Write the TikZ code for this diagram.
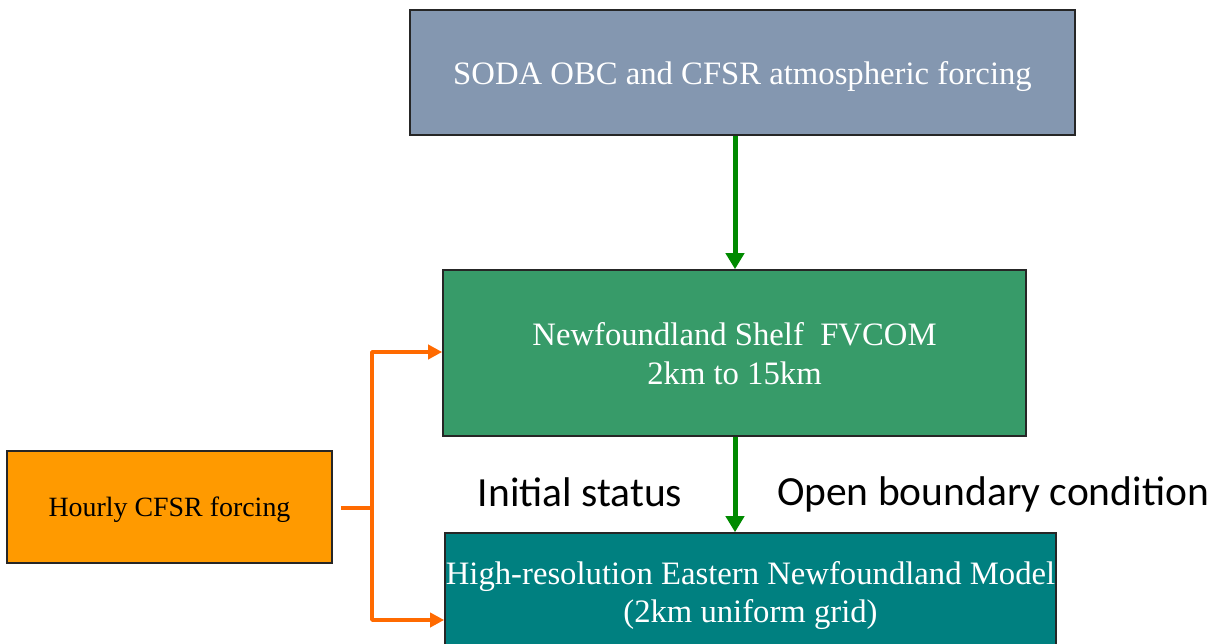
\documentclass[tikz,border=0pt]{standalone}
\usepackage{fontspec}
\setmainfont{Liberation Serif}
\newfontfamily\labelfont{Carlito}
\usetikzlibrary{arrows.meta}

\definecolor{sodablue}{HTML}{8497B0}
\definecolor{shelfgreen}{HTML}{379B69}
\definecolor{modelteal}{HTML}{008080}
\definecolor{forcingorange}{HTML}{FF9A00}
\definecolor{lineorange}{HTML}{FF6A00}
\definecolor{arrowgreen}{HTML}{008A00}

\tikzset{
  box/.style={draw=black!85, line width=1.6pt, inner sep=0pt, align=center,
    text depth=0pt, font=\fontsize{32.7}{39}\selectfont, text=white},
  greenarrow/.style={draw=arrowgreen, line width=5pt,
    -{Triangle[width=18pt,length=16pt]}},
  orangeline/.style={draw=lineorange, line width=3.8pt, line join=round},
  steplabel/.style={font=\labelfont\fontsize{41.5}{48}\selectfont}
}

\begin{document}
\begin{tikzpicture}[x=1pt, y=-1pt]
\useasboundingbox (0,0) rectangle (1218,644);
\clip (0,0) rectangle (1218,644);
\coordinate (A) at (742.5,72.5);
\coordinate (B) at (734.5,353);
\coordinate (C) at (169.5,507);
\coordinate (D) at (750.5,591.5);
\coordinate (split) at (372,508);

\node [box, fill=sodablue, minimum width=665pt, minimum height=125pt] (soda) at (A)
  {SODA OBC and CFSR atmospheric forcing};
\node [box, fill=shelfgreen, minimum width=583pt, minimum height=166pt] (fvcom) at (B)
  {Newfoundland Shelf\ \ FVCOM\\2km to 15km};
\node [box, fill=forcingorange, minimum width=325pt, minimum height=112pt, text=black,
  font=\fontsize{27.9}{33}\selectfont] (hourly) at (C) {Hourly CFSR forcing};
\node [box, fill=modelteal, minimum width=611pt, minimum height=117pt,
  font=\fontsize{32.7}{38}\selectfont] (model) at (D)
  {High-resolution Eastern Newfoundland Model\\(2km uniform grid)};

\node [steplabel] (initial) at (580,492) {Initial status};
\node [steplabel] (openbc) at (993,494) {Open boundary condition};

\draw [greenarrow] (soda.south -| 735,0) -- (fvcom.north -| 735,0);
\draw [greenarrow] (fvcom.south -| 735,0) -- (model.north -| 735,0);

\draw [orangeline] ([xshift=8pt]hourly.east |- split) -- (split);
\draw [orangeline, -{Triangle[width=14pt,length=14pt]}] (split) |- (fvcom.west |- 0,352);
\draw [orangeline, -{Triangle[width=14pt,length=14pt]}] (split) |- (model.west |- 0,620);
\end{tikzpicture}
\end{document}
